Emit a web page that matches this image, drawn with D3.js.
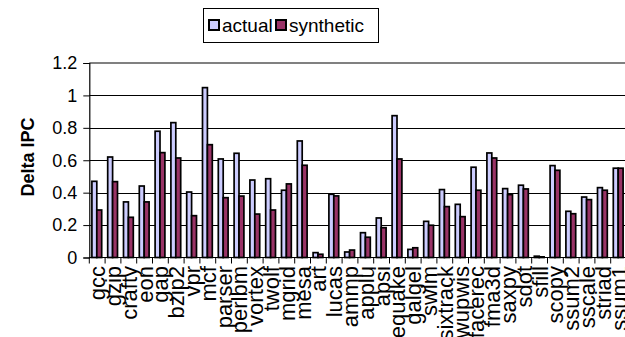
<!DOCTYPE html>
<html>
<head>
<meta charset="utf-8">
<script src="https://cdn.jsdelivr.net/npm/d3@7"></script>
<style>
html,body{margin:0;padding:0;background:#fff;overflow:hidden;}
svg{display:block;font-family:"Liberation Sans",Arial,sans-serif;}
</style>
</head>
<body>
<svg id="chart" width="625" height="337"></svg>
<script>
const categories = ["gcc","gzip","crafty","eon","gap","bzip2","vpr","mcf","parser","perlbm","vortex","twolf","mgrid","mesa","art","lucas","ammp","applu","apsi","equake","galgel","swim","sixtrack","wupwis","facerec","fma3d","saxpy","sdot","sfill","scopy","ssum2","sscale","striad","ssum1"];
const actual = [0.47,0.62,0.343,0.441,0.779,0.832,0.404,1.048,0.608,0.643,0.478,0.486,0.415,0.719,0.03,0.39,0.034,0.153,0.244,0.875,0.05,0.223,0.419,0.328,0.557,0.645,0.425,0.446,0.008,0.567,0.285,0.373,0.431,0.551];
const synthetic = [0.293,0.468,0.248,0.343,0.647,0.614,0.258,0.696,0.369,0.379,0.268,0.293,0.454,0.569,0.02,0.38,0.046,0.125,0.184,0.608,0.06,0.199,0.314,0.252,0.415,0.614,0.388,0.423,0.004,0.538,0.27,0.357,0.415,0.551];
const seriesNames = ["actual","synthetic"];
const seriesColors = ["#CCCCFF","#993366"];
const yTicks = [0,0.2,0.4,0.6,0.8,1,1.2];
const yTitle = "Delta IPC";

(function(){
const FONT = "'Liberation Sans', Arial, sans-serif";
const svg = d3.select("#chart");
const pLeft = 89.3, pRight = 626.5, pTop = 63, pBottom = 257.5;

const x0 = d3.scaleBand().domain(categories).range([pLeft, pRight]).paddingInner(0).paddingOuter(0);
const x1 = d3.scaleBand().domain(seriesNames).range([2.6, 12.4]);
const y = d3.scaleLinear().domain([0, 1.2]).range([pBottom, pTop]);

// gridlines
svg.append("g").selectAll("line").data(yTicks.filter(t => t > 0 && t < 1.2)).join("line")
  .attr("x1", pLeft).attr("x2", 625)
  .attr("y1", d => Math.round(y(d)) + 0.5).attr("y2", d => Math.round(y(d)) + 0.5)
  .attr("stroke", "#000").attr("stroke-width", 1);
// top plot border
svg.append("line").attr("x1", pLeft).attr("x2", 625).attr("y1", y(1.2)).attr("y2", y(1.2))
  .attr("stroke", "#808080").attr("stroke-width", 2);

// bars
const data = categories.map((c, i) => ({c, vals: [actual[i], synthetic[i]]}));
const g = svg.append("g");
data.forEach(d => {
  d.vals.forEach((v, si) => {
    g.append("rect")
      .attr("x", x0(d.c) + x1(seriesNames[si]))
      .attr("width", x1.bandwidth())
      .attr("y", y(v))
      .attr("height", Math.max(0, y(0) - y(v)))
      .attr("fill", seriesColors[si])
      .attr("stroke", "#000")
      .attr("stroke-width", 1.7);
  });
});

// y axis
const yAxis = d3.axisLeft(y).tickValues(yTicks).tickSize(6).tickPadding(6)
  .tickFormat(d => String(+d.toFixed(1)));
const ya = svg.append("g").attr("transform", `translate(${pLeft},0)`).call(yAxis);
ya.select(".domain").attr("stroke", "#000").attr("stroke-width", 1.2);
ya.selectAll(".tick line").attr("stroke", "#000");
ya.selectAll("text").attr("font-size", 18).attr("font-family", FONT).attr("fill", "#000");

// x axis
const xa = svg.append("g").attr("transform", `translate(0,${pBottom})`);
xa.append("line").attr("x1", pLeft).attr("x2", 625).attr("stroke", "#000").attr("stroke-width", 1.2);
xa.selectAll("line.tk").data(categories.concat(["__end"])).join("line").attr("class", "tk")
  .attr("x1", (d, i) => pLeft + i * x0.step()).attr("x2", (d, i) => pLeft + i * x0.step())
  .attr("y1", 0).attr("y2", 6).attr("stroke", "#000");
xa.selectAll("text").data(categories).join("text")
  .attr("transform", d => `translate(${x0(d) + x0.bandwidth() / 2},${266 - pBottom}) rotate(-90)`)
  .attr("dy", "0.36em")
  .attr("text-anchor", "end")
  .attr("font-family", FONT)
  .attr("font-size", 22)
  .text(d => d);

// y title
svg.append("text").attr("transform", "translate(28,157) rotate(-90)")
  .attr("text-anchor", "middle").attr("dy", "0.36em")
  .attr("font-family", FONT)
  .attr("font-size", 18).attr("font-weight", "bold").text(yTitle);

// legend
const lg = svg.append("g");
lg.append("rect").attr("x", 203.5).attr("y", 8.5).attr("width", 175).attr("height", 34)
  .attr("fill", "#fff").attr("stroke", "#000").attr("stroke-width", 1);
const legendX = [209, 276];
seriesNames.forEach((s, i) => {
  lg.append("rect").attr("x", legendX[i]).attr("y", 20).attr("width", 10).attr("height", 10)
    .attr("fill", seriesColors[i]).attr("stroke", "#000").attr("stroke-width", 2);
  lg.append("text").attr("x", legendX[i] + 13).attr("y", 25.5).attr("dy", "0.35em")
    .attr("font-family", FONT)
    .attr("font-size", 19).text(s);
});
})();
</script>
</body>
</html>
